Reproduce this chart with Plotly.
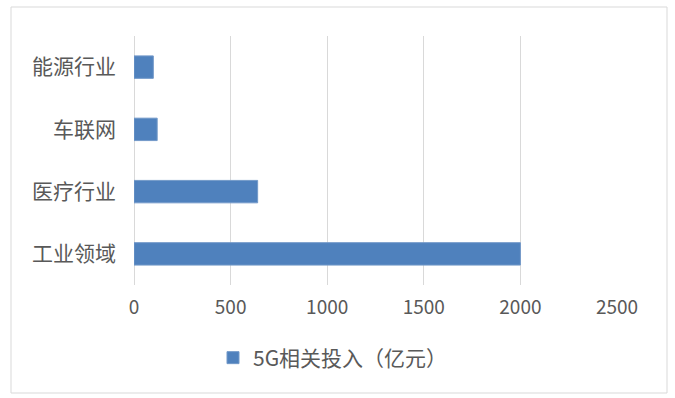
import plotly.graph_objects as go

categories = ["工业领域", "医疗行业", "车联网", "能源行业"]
values = [2000, 640, 120, 100]
series_name = "5G相关投入（亿元）"
x_ticks = [0, 500, 1000, 1500, 2000, 2500]

W, H = 675, 398
L, R, T, B = 134, 58, 36, 113
pw, ph = W - L - R, H - T - B

fig = go.Figure()
fig.add_trace(go.Bar(
    y=categories, x=values, orientation="h", name=series_name,
    marker=dict(color="#4F81BD", line=dict(color="#7399c9", width=1)),
    showlegend=True,
))

def px_x(p):
    return (p - L) / pw

def px_y(p):
    return (H - B - p) / ph

fig.add_shape(type="rect", xref="paper", yref="paper",
              x0=px_x(11), x1=px_x(667), y0=px_y(393), y1=px_y(7),
              line=dict(color="#d9d9d9", width=1), fillcolor="rgba(0,0,0,0)", layer="below")

font_family = "Noto Sans CJK SC, Noto Sans, sans-serif"
fig.update_layout(
    width=W, height=H,
    margin=dict(l=L, r=R, t=T, b=B),
    plot_bgcolor="white", paper_bgcolor="white",
    bargap=0.64,
    font=dict(family=font_family, color="#595959"),
    xaxis=dict(range=[0, 2500], tickvals=x_ticks, showgrid=True, gridcolor="#d9d9d9",
               gridwidth=1, zeroline=True, zerolinecolor="#d9d9d9", zerolinewidth=1,
               showline=False, tickfont=dict(size=19, color="#595959"),
               ticklabelstandoff=9, fixedrange=True),
    yaxis=dict(categoryorder="array", categoryarray=categories, showgrid=False,
               showline=False, zeroline=False, tickfont=dict(size=21, color="#595959"),
               ticklabelstandoff=17, fixedrange=True),
    legend=dict(orientation="h", x=px_x(333), xanchor="center", y=px_y(358), yanchor="middle",
                font=dict(size=21, color="#595959"), bgcolor="rgba(0,0,0,0)"),
)

fig.write_html("out.html")
